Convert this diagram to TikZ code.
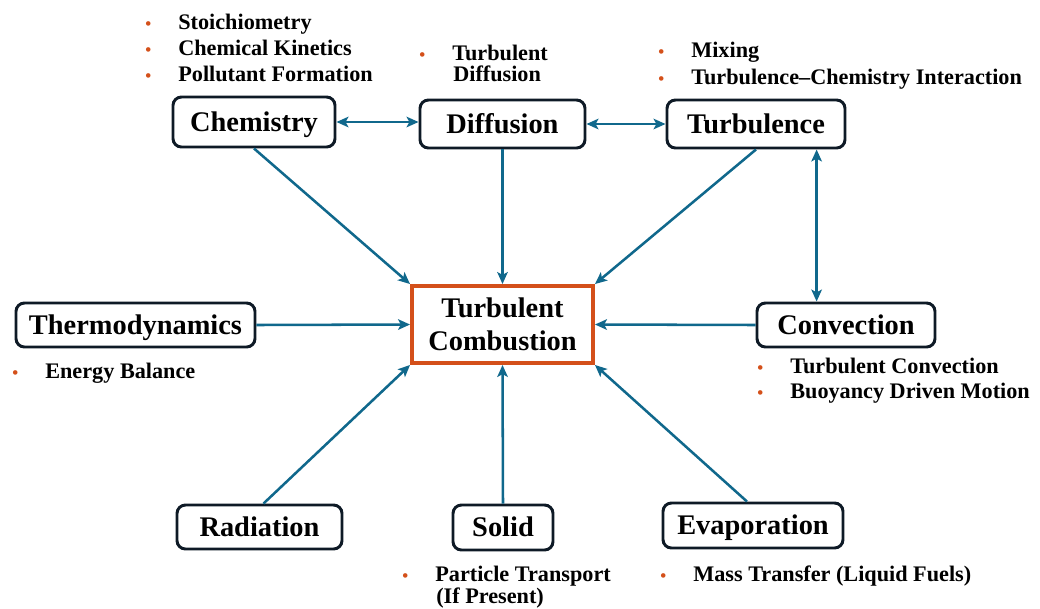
\documentclass[tikz,border=0pt]{standalone}
\usepackage{fontspec}
\setmainfont{Liberation Serif}
\usetikzlibrary{arrows.meta,calc}

\definecolor{flow}{RGB}{16,104,140}
\definecolor{boxline}{RGB}{14,26,38}
\definecolor{accent}{RGB}{212,80,26}

% bullet marker followed by a fixed gap before the item text
\newcommand\bul{\makebox[23.5pt][l]{\textcolor{accent}{\fontsize{12pt}{12pt}\selectfont\textbullet}}}

\begin{document}
\begin{tikzpicture}[x=0.025cm,y=-0.025cm,
  box/.style={draw=boxline, line width=2.1pt, rounded corners=6pt, fill=white,
    font=\fontsize{20.2pt}{24pt}\selectfont\bfseries, inner sep=0pt,
    text height=13.4pt, text depth=0pt},
  size/.style 2 args={minimum width=#1*0.025cm, minimum height=#2*0.025cm},
  core/.style={draw=accent, line width=2.8pt, fill=white, align=center, inner sep=0pt,
    font=\fontsize{20.2pt}{23.5pt}\selectfont\bfseries},
  note/.style={anchor=base west, inner sep=0pt,
    font=\fontsize{15.8pt}{18pt}\selectfont\bfseries},
  tip/.tip={Stealth[length=8.5pt,width=7.5pt,inset=2pt]},
  link/.style={draw=flow, line width=1.8pt, -tip},
  both/.style={draw=flow, line width=1.8pt, tip-tip}
]
\useasboundingbox (0,0) rectangle (1040,608);

% central node
\node[core, size={181}{77}] (comb) at (502.5,324.5) {Turbulent\\Combustion};

% surrounding processes
\node[box, size={162}{50}] (chem)   at (254,122)   {Chemistry};
\node[box, size={165}{48}] (diff)   at (502.5,124) {Diffusion};
\node[box, size={178}{48}] (turb)   at (756,124)   {Turbulence};
\node[box, size={239}{44}] (thermo) at (135.5,325) {Thermodynamics};
\node[box, size={178}{44}] (conv)   at (846,325)   {Convection};
\node[box, size={165}{44}] (rad)    at (259.5,527) {Radiation};
\node[box, size={100}{45}] (solid)  at (503,527.5) {Solid};
\node[box, size={180}{45}] (evap)   at (753,525.5) {Evaporation};

% item lists
\node[note] (chemA) at (145,29) {\bul Stoichiometry};
\node[note] (chemB) at (145,55) {\bul Chemical Kinetics};
\node[note] (chemC) at (145,81) {\bul Pollutant Formation};

\node[note] (diffA) at (419,60) {\bul Turbulent};
\node[note] (diffB) at (453,81) {Diffusion};

\node[note] (turbA) at (658,57) {\bul Mixing};
\node[note] (turbB) at (658,84) {\bul Turbulence--Chemistry Interaction};

\node[note] (thermoA) at (12,378) {\bul Energy Balance};

\node[note] (convA) at (757,373) {\bul Turbulent Convection};
\node[note] (convB) at (757,398) {\bul Buoyancy Driven Motion};

\node[note] (solidA) at (402,581) {\bul Particle Transport};
\node[note] (solidB) at (436,603) {(If Present)};

\node[note] (evapA) at (660,581) {\bul Mass Transfer (Liquid Fuels)};

% couplings
\draw[both] (chem.east) -- (chem.east -| diff.west);
\draw[both] (diff.east) -- (diff.east -| turb.west);
\draw[both] ($(turb.south west)!0.835!(turb.south east)$) coordinate (tv)
  -- (tv |- conv.north);

% contributions to turbulent combustion
\draw[link] (chem.south) -- (comb.north west);
\draw[link] (diff.south) -- (comb.north);
\draw[link] (turb.south) -- (comb.north east);
\draw[link] (thermo.east) -- (comb.west);
\draw[link] (conv.west) -- (comb.east);
\draw[link] ($(rad.north)+(4,0)$) -- (comb.south west);
\draw[link] (solid.north) -- (comb.south);
\draw[link] ($(evap.north)-(6,0)$) -- (comb.south east);
\end{tikzpicture}
\end{document}
